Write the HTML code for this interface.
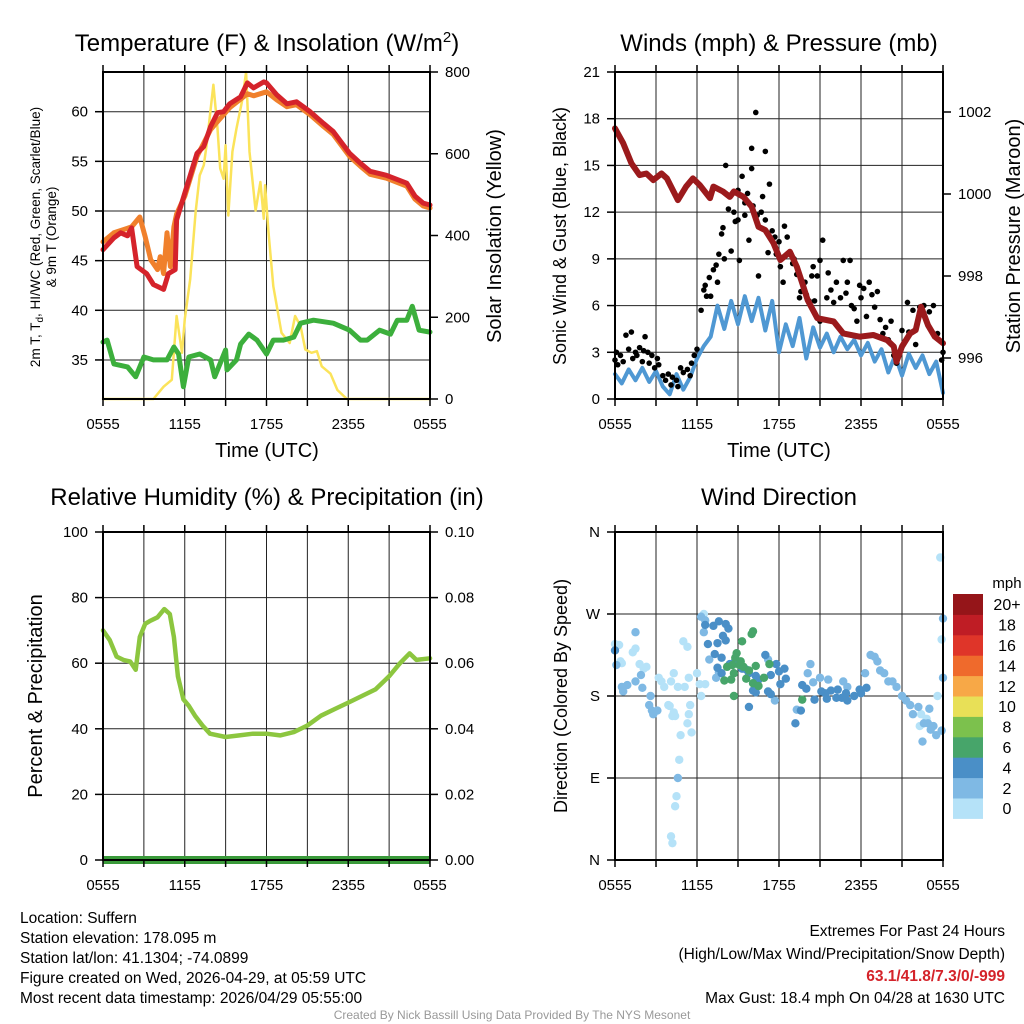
<!DOCTYPE html>
<html><head><meta charset="utf-8"><style>
html,body{margin:0;padding:0;background:#fff;}
svg{display:block;font-family:"Liberation Sans",Arial,sans-serif;}
</style></head><body>
<svg id="chart" width="1024" height="1024" viewBox="0 0 1024 1024" xmlns="http://www.w3.org/2000/svg">
<rect width="1024" height="1024" fill="#fff"/>
<text x="267" y="51" font-size="24" text-anchor="middle">Temperature (F) &amp; Insolation (W/m<tspan dy="-9" font-size="15">2</tspan><tspan dy="9">)</tspan></text>
<text x="779" y="51" font-size="24" text-anchor="middle">Winds (mph) &amp; Pressure (mb)</text>
<text x="267" y="505" font-size="24" text-anchor="middle">Relative Humidity (%) &amp; Precipitation (in)</text>
<text x="779" y="505" font-size="24" text-anchor="middle">Wind Direction</text>
<text transform="translate(40,237) rotate(-90)" font-size="13.5" text-anchor="middle">2m T, T<tspan dy="3" font-size="10">d</tspan><tspan dy="-3">, HI/WC (Red, Green, Scarlet/Blue)</tspan></text>
<text transform="translate(56,237) rotate(-90)" font-size="13.5" text-anchor="middle">&amp; 9m T (Orange)</text>
<text transform="translate(501,236) rotate(-90)" font-size="20" text-anchor="middle">Solar Insolation (Yellow)</text>
<text x="267" y="457" font-size="20" text-anchor="middle">Time (UTC)</text>
<text x="779" y="457" font-size="20" text-anchor="middle">Time (UTC)</text>
<text transform="translate(566,236) rotate(-90)" font-size="18" text-anchor="middle">Sonic Wind &amp; Gust (Blue, Black)</text>
<text transform="translate(1020,236) rotate(-90)" font-size="20" text-anchor="middle">Station Pressure (Maroon)</text>
<text transform="translate(42,696) rotate(-90)" font-size="20" text-anchor="middle">Percent &amp; Precipitation</text>
<text transform="translate(567,696) rotate(-90)" font-size="18" text-anchor="middle">Direction (Colored By Speed)</text>
<g font-size="15.5">
<text x="20" y="923">Location: Suffern</text>
<text x="20" y="943">Station elevation: 178.095 m</text>
<text x="20" y="963">Station lat/lon: 41.1304; -74.0899</text>
<text x="20" y="983">Figure created on Wed, 2026-04-29, at 05:59 UTC</text>
<text x="20" y="1003">Most recent data timestamp: 2026/04/29 05:55:00</text>
</g>
<g font-size="15.5" text-anchor="end">
<text x="1005" y="936">Extremes For Past 24 Hours</text>
<text x="1005" y="959">(High/Low/Max Wind/Precipitation/Snow Depth)</text>
<text x="1005" y="981" fill="#d4232a" font-weight="bold">63.1/41.8/7.3/0/-999</text>
<text x="1005" y="1003">Max Gust: 18.4 mph On 04/28 at 1630 UTC</text>
</g>
<text x="512" y="1019" font-size="12" fill="#999" text-anchor="middle">Created By Nick Bassill Using Data Provided By The NYS Mesonet</text>
</svg>
<script>
// ---- data (time in hours after 0555 UTC) ----
const xTickLabels = ["0555","1155","1755","2355","0555"];
const tempTicks = [35,40,45,50,55,60];
const insolTicks = [0,200,400,600,800];
const windTicks = [0,3,6,9,12,15,18,21];
const presTicks = [996,998,1000,1002];
const rhTicks = [0,20,40,60,80,100];
const precipTickLabels = ["0.00","0.02","0.04","0.06","0.08","0.10"];
const dirTickLabels = ["N","E","S","W","N"];
const speedBins = ["0","2","4","6","8","10","12","14","16","18","20+"];
const speedColors = ["#b5e2f8","#7fb9e4","#4a8fc7","#47a56a","#7cc14d","#e8e057","#f7a847","#ef6a2c","#df3529","#bf1d25","#951519"];

const redT = [0,0.8,1.3,1.8,2.1,2.5,3.2,3.7,4.45,4.8,5.3,5.4,6,6.9,7.4,7.9,8.4,8.85,9.3,10.1,10.6,11.05,11.8,12,12.75,13.5,14.2,15.2,16.2,16.9,18.1,18.9,19.6,20.8,22.3,22.9,23.5,24];
const redV = [46.1,47.3,47.8,47.5,48.3,44.4,43.7,42.6,42.1,43.7,44.1,49.1,51.8,55.8,56.5,58.5,59.9,60,60.8,61.5,62.9,62.4,63,62.9,61.7,60.8,61,60,58.8,58,55.8,54.8,54,53.6,52.8,51.5,50.8,50.6];
const orangeT = [0,0.8,2.1,2.7,3.1,3.5,4,4.2,4.45,4.7,4.95,5.2,5.4,6,6.9,7.9,8.4,9.3,10.6,11.05,12,12.75,13.5,14.2,15.2,16.2,16.9,18.1,18.9,19.6,20.8,22.3,22.9,23.5,24];
const orangeV = [46.9,47.8,48.4,49.4,47.4,45.1,44.1,45.4,43.7,47.8,44.4,48.4,49.7,51.5,55.5,58.2,59,60.4,61.8,61.6,62,61.2,60.5,60.7,59.7,58.5,57.7,55.5,54.5,53.7,53.3,52.5,51.2,50.5,50.3];
const dewT = [0,0.3,0.8,1.8,2.4,3,3.7,4.7,5.2,5.55,5.9,6.3,7.1,7.9,8.2,9,9.1,9.8,10.1,10.7,11.3,12,12.5,13.25,14,14.5,15.45,16.9,18.1,18.9,19.4,20.3,21.1,21.6,22.3,22.7,23.2,24];
const dewV = [36.8,37,34.6,34.3,33.3,35.3,35,35,36.3,35.6,32.3,35.3,35.6,35,33.3,36,34,35,36.6,37.6,37,35.6,37,37,37.3,38.7,39,38.7,38,37,37,38,37.6,39,39,40.4,38,37.8];
const insolT = [0,3.7,4.45,5.05,5.4,5.8,6,6.4,6.8,7.1,7.4,7.6,8.1,8.4,8.6,8.85,9,9.2,9.5,9.8,10.2,10.5,10.75,11.2,11.55,11.8,11.9,12.15,12.5,13.1,13.7,14.1,14.5,14.85,15.3,15.7,16.05,16.7,17.2,17.9,24];
const insolV = [0,0,30,47,203,113,196,293,457,547,572,621,769,662,564,539,621,449,605,662,728,800,605,461,531,441,523,408,276,162,137,203,178,121,113,117,80,62,22,0,0];

const windT = [0,0.5,1,1.5,2,2.5,3,3.5,4,4.5,5,5.5,6,6.5,7,7.5,8,8.5,9,9.5,10,10.5,11,11.5,12,12.5,13,13.5,14,14.5,15,15.5,16,16.5,17,17.5,18,18.5,19,19.5,20,20.5,21,21.5,22,22.5,23,23.5,24];
const windV = [1.6,1.0,1.9,1.2,2.0,1.1,1.8,0.8,0.3,1.6,0.6,1.4,2.6,3.4,4.0,6.0,4.5,6.3,4.8,6.6,5.0,6.5,4.4,6.3,3.0,4.8,3.4,5.2,2.6,4.6,3.3,4.2,3.0,4.0,3.2,3.8,2.8,3.6,2.4,3.2,1.7,2.8,1.5,2.9,2.0,2.8,1.6,2.4,0.4];
const gustT = [0,0.1,0.2,0.4,0.6,0.8,1,1.2,1.3,1.5,1.6,1.8,2,2.1,2.2,2.4,2.5,2.7,2.9,3.1,3.2,3.5,3.7,3.9,4.1,4.2,4.5,4.6,4.8,5,5.3,5.5,5.6,5.8,6,6.3,6.5,6.6,6.7,6.9,7,7.2,7.4,7.5,7.6,7.8,7.9,8,8.1,8.3,8.5,8.7,8.8,9,9,9.1,9.3,9.5,9.5,9.7,9.8,10,10,10.1,10.3,10.4,10.5,10.7,10.8,11,11,11.2,11.3,11.5,11.7,11.8,12,12.1,12.3,12.4,12.6,12.8,13,13.1,13.3,13.5,13.6,13.9,14,14.2,14.4,14.5,14.6,14.8,15,15,15.2,15.5,15.6,15.8,16,16.2,16.5,16.7,16.9,17,17.2,17.3,17.5,17.7,17.9,18,18.2,18.4,18.6,18.8,19,19.2,19.4,19.6,19.8,20,20.2,20.4,20.6,21,21.4,21.5,21.8,22,22.3,22.6,23,23.3,23.6,23.9,24];
const gustV = [2.5,3,2.2,2.8,2.4,4.1,3.2,4.3,2.6,3,2.8,3.3,2.4,3.1,4,3,2.3,2.8,2,2.6,2.2,1.5,1.2,1.6,0.9,1.4,1.2,0.8,2,1.7,1.9,1.5,2.3,2.8,3.2,5.7,7,7.3,6.6,7.8,6.6,8.3,8.6,7.5,9.3,10.6,11,9,15,12.2,9.5,12,11.4,11.5,13.4,8.9,14.3,11.8,12.6,13.2,10.2,16.1,14.8,12.4,18.4,11.8,7.9,12,13,11.5,15.9,9.4,13.8,10.8,10.4,9.3,10.1,8.5,7.5,11.1,10.4,9.3,8.7,9,8,6.5,6.9,7.5,6.7,6.3,7.9,8.5,6.3,7.9,8.9,5,10.2,6.5,8.1,7,6.2,7.5,6.5,8.9,6.8,7.5,8.9,6,5.8,5,7.3,6.5,7.1,5.3,7.5,6.7,5.9,6.9,5.1,4.2,4.6,3.8,5,2.8,2.3,4.4,6.2,4.3,5.7,3.5,5.9,6,5.6,6,4.2,2.5,3];
const presT = [0,0.6,1.2,1.8,2.3,2.8,3.4,3.8,4.6,5.2,5.7,6.2,6.95,7.2,7.9,8.4,8.7,9.4,10,10.5,11,11.6,12.1,12.8,13.3,13.7,14.1,14.8,16,16.7,17.9,18.9,19.9,20.4,20.6,21,21.6,22,22.4,22.9,23.4,24];
const presV = [1001.6,1001.24,1000.75,1000.46,1000.5,1000.34,1000.5,1000.38,999.85,1000.18,1000.38,1000.22,999.9,1000.18,1000.06,999.93,1000.06,999.93,999.69,999.2,999.12,998.8,998.39,998.59,998.23,997.83,997.41,996.97,996.89,996.6,996.52,996.56,996.44,996.28,995.91,996.28,996.6,996.68,997.25,996.8,996.52,996.36];

const rhT = [0,0.5,1,1.5,2,2.4,2.7,3.1,3.5,4,4.5,4.9,5.2,5.5,5.9,6.3,6.75,7.3,7.85,9,10,11,12,13,14,15,16,17,18,19,20,21,21.8,22.5,23,24];
const rhV = [70,67,62,61,60.5,58,68,72,73,74,76.5,75,68,56,49,47,44,41,38.5,37.5,38,38.5,38.5,38,39,41,44,46,48,50,52,56,60,63,61,61.5];
const precipT = [0,24];
const precipV = [0,0];

const dirT = [0,0.3,0.4,0.5,1.3,1.5,1.8,2.1,2.3,3.2,3.4,3.6,3.9,4,4.2,4.3,4.8,4.4,4.3,4.1,4.7,4.5,4.4,4.1,4.2,4.6,5,5.3,5.1,5.4,5.5,5.6,5.3,5.4,6,6.2,6.3,6.6,6.5,23.8,23.9,23.6,22.4,22.8,22.3,
 0.1,0.5,0.6,0.9,1.5,1.9,2.0,2.6,2.5,2.7,2.8,3.1,1.5,6.3,6.6,6.5,6.9,7.6,7.4,14.3,14.1,14.5,15,15.6,16.7,17.0,18.3,18.7,19.0,19.2,19.4,19.7,20.0,20.6,20.3,21.0,21.3,21.6,21.8,22.2,22.6,22.9,23.1,23.3,23.5,23.9,23.0,22.5,24,24,11.2,11.7,13.3,4.6,
 0,6.6,7.2,7.6,8.1,8.3,7.9,8.1,7.5,6.8,7.3,7.8,7.5,7.8,8.4,8.8,9.3,9.6,10.3,11.4,12.1,12.5,12.0,12.4,11.8,11.0,10.5,10.1,11.2,11.4,13.7,14.0,14.6,15.1,15.4,15.8,16.3,16.6,16.9,17.0,17.5,17.9,18.0,18.4,13.6,13.2,9.8,15.5,16.2,9.8,10.3,
 8.2,8.6,8.7,8.5,9.1,9.4,9.8,10.3,10.1,10.0,8.9,8.8,9.2,9.6,10.1,10.5,11.3,10.9,8.7,13.7,9.3,8.0];
const dirV = [237,236,218,216,228,232,215,210,212,200,196,190,170,169,158,162,137,158,205,196,110,70,59,26,18.5,190,240,234,190,160,170,140,150,200,205,193,180,193,270,332,242,180,160,155,147,
 214,190,185,192,196,203,189,180,170,164,160,164,250,267,263,250,220,206,200,215,205,195,200,198,196,190,205,225,223,218,208,205,196,190,196,180,175,170,160,168,150,150,143,147,137,142,166,130,200,265,220,175,165,90,
 230,258,257,262,259,254,246,241,238,237,226,222,211,205,215,219,210,209,202,203,193,199,207,210,215,225,198,186,185,182,192,188,176,185,183,186,187,178,183,175,180,187,183,189,164,150,168,177,178,205,184,
 212,214,205,198,214,212,208,213,251,248,227,222,218,199,194,191,215,200,180,176,240,197];
const dirSpeed = [1,1,1,1,1,1,1,1,1,1,1,1,1,1,1,1,1,1,1,1,1,1,1,1,1,1,1,1,1,1,1,1,1,1,1,1,1,1,1,1,1,1,1,1,1,
 3,3,3,3,3,3,3,3,3,3,3,3,3,3,3,3,3,3,3,3,3,3,3,3,3,3,3,3,3,3,3,3,3,3,3,3,3,3,3,3,3,3,3,3,3,3,3,3,3,3,3,3,3,3,
 5,5,5,5,5,5,5,5,5,5,5,5,5,5,5,5,5,5,5,5,5,5,5,5,5,5,5,5,5,5,5,5,5,5,5,5,5,5,5,5,5,5,5,5,5,5,5,5,5,5,5,
 7,7,7,7,7,7,7,7,7,7,7,7,7,7,7,7,7,7,7,7,7,7];

// ---- drawing ----
const NS = "http://www.w3.org/2000/svg";
const svg = document.getElementById("chart");
function mk(tag, attrs, parent) {
  const e = document.createElementNS(NS, tag);
  for (const k in attrs) e.setAttribute(k, attrs[k]);
  (parent || svg).appendChild(e);
  return e;
}
const P1 = {x0:103, x1:430, y0:72, y1:399};
const P2 = {x0:615, x1:943, y0:72, y1:399};
const P3 = {x0:103, x1:430, y0:532, y1:860};
const P4 = {x0:615, x1:943, y0:532, y1:860};
function xs(P, t) { return P.x0 + t / 24 * (P.x1 - P.x0); }
function lin(P, lo, hi) { return v => P.y1 - (v - lo) / (hi - lo) * (P.y1 - P.y0); }
const yTemp = v => 111.7 + (60 - v) * 9.93;
const yIns = lin(P1, 0, 800);
const yWind = lin(P2, 0, 21);
const yPres = v => 358 - (v - 996) * 41;
const yRH = lin(P3, 0, 100);
const yDir = lin(P4, 0, 360);

function gridAndFrame(P, name, hVals, yf) {
  const g = mk("g", {});
  
  
  for (let i = 1; i < 8; i++) {
    const x = P.x0 + i * (P.x1 - P.x0) / 8;
    mk("line", {x1:x, x2:x, y1:P.y0, y2:P.y1, stroke:"#222", "stroke-width":1}, g);
  }
  hVals.forEach(v => { const y = yf(v); if (y > P.y0 + 1 && y < P.y1 - 1) mk("line", {x1:P.x0, x2:P.x1, y1:y, y2:y, stroke:"#222", "stroke-width":1}, g); });
  return g;
}
function frame(P, name) {
  const r = mk("rect", {x:P.x0, y:P.y0, width:P.x1-P.x0, height:P.y1-P.y0, fill:"none", stroke:"#000", "stroke-width":2});
  
  
  // x ticks & labels
  for (let i = 0; i <= 8; i++) {
    const x = P.x0 + i * (P.x1 - P.x0) / 8;
    mk("line", {x1:x, x2:x, y1:P.y1, y2:P.y1 + 7, stroke:"#000", "stroke-width":1.5});
    mk("line", {x1:x, x2:x, y1:P.y0, y2:P.y0 - 7, stroke:"#000", "stroke-width":1.5});
  }
  xTickLabels.forEach((lab, i) => {
    const t = mk("text", {x: xs(P, i * 6), y: P.y1 + 30, "font-size":15, "text-anchor":"middle"});
    
    
    t.textContent = lab;
  });
}
function yLabels(P, name, vals, labs, yf, side) {
  vals.forEach((v, i) => {
    const y = yf(v);
    const x0 = side === "left" ? P.x0 : P.x1;
    const d = side === "left" ? -8 : 8;
    mk("line", {x1:x0, x2:x0 + d, y1:y, y2:y, stroke:"#000", "stroke-width":1.5});
    const t = mk("text", {x: side === "left" ? P.x0 - 15 : P.x1 + 15, y: y + 5, "font-size":15, "text-anchor": side === "left" ? "end" : "start"});
    
    
    t.textContent = labs[i];
  });
}
function path(P, T, V, yf, color, w, name) {
  const d = T.map((t, i) => (i ? "L" : "M") + xs(P, t).toFixed(1) + "," + yf(V[i]).toFixed(1)).join("");
  const p = mk("path", {d:d, fill:"none", stroke:color, "stroke-width":w, "stroke-linejoin":"round", "stroke-linecap":"round"});
  
  
  return p;
}

// Panel 1
gridAndFrame(P1, "temp", tempTicks, yTemp);
path(P1, insolT, insolV, yIns, "#fbe35a", 2.5, "insolation-line");
path(P1, dewT, dewV, yTemp, "#3caf3c", 5, "dewpoint-line");
path(P1, orangeT, orangeV, yTemp, "#f0802c", 5, "temp-9m-line");
path(P1, redT, redV, yTemp, "#d5232b", 5, "temp-2m-line");
frame(P1, "temp");
yLabels(P1, "temp-y", tempTicks, tempTicks.map(String), yTemp, "left");
yLabels(P1, "insolation-y", insolTicks, insolTicks.map(String), yIns, "right");

// Panel 2
gridAndFrame(P2, "wind", windTicks, yWind);
path(P2, windT, windV, yWind, "#4f98d3", 4, "wind-speed-line");
gustT.forEach((t, i) => {
  const c = mk("circle", {cx: xs(P2, t), cy: yWind(gustV[i]), r: 2.8, fill:"#000"});
  
  
});
path(P2, presT, presV, yPres, "#9b1a1c", 6, "pressure-line");
frame(P2, "wind");
yLabels(P2, "wind-y", windTicks, windTicks.map(String), yWind, "left");
yLabels(P2, "pressure-y", presTicks, presTicks.map(String), yPres, "right");

// Panel 3
gridAndFrame(P3, "rh", rhTicks, yRH);
path(P3, rhT, rhV, yRH, "#8cc63f", 4.5, "rh-line");
const pl = path(P3, precipT, precipV, yRH, "#3a9a3a", 8, "precip-line");
pl.setAttribute("stroke-linecap", "butt");
frame(P3, "rh");
yLabels(P3, "rh-y", rhTicks, rhTicks.map(String), yRH, "left");
yLabels(P3, "precip-y", rhTicks, precipTickLabels, yRH, "right");

// Panel 4
const dirTicks = [0, 90, 180, 270, 360];
gridAndFrame(P4, "dir", dirTicks, yDir);
dirT.forEach((t, i) => {
  const c = mk("circle", {cx: xs(P4, t), cy: yDir(dirV[i]), r: 4.2, fill: speedColors[Math.min(10, Math.floor(dirSpeed[i] / 2))]});
  
  
});
frame(P4, "dir");
yLabels(P4, "dir-y", dirTicks, dirTickLabels, yDir, "left");

// Colorbar
const cb = mk("g", {});


const cbTop = 594, cbH = 20.4;
speedBins.forEach((lab, i) => {
  const y = cbTop + (10 - i) * cbH;
  const r = mk("rect", {x:953, y:y, width:30, height:cbH + 0.5, fill:speedColors[i]}, cb);
  
  
  const t = mk("text", {x:1007, y:y + cbH / 2 + 6, "font-size":16, "text-anchor":"middle"}, cb);
  
  
  t.textContent = lab;
});
const mph = mk("text", {x:1007, y:588, "font-size":15, "text-anchor":"middle"}, cb);


mph.textContent = "mph";
</script>
</body></html>
